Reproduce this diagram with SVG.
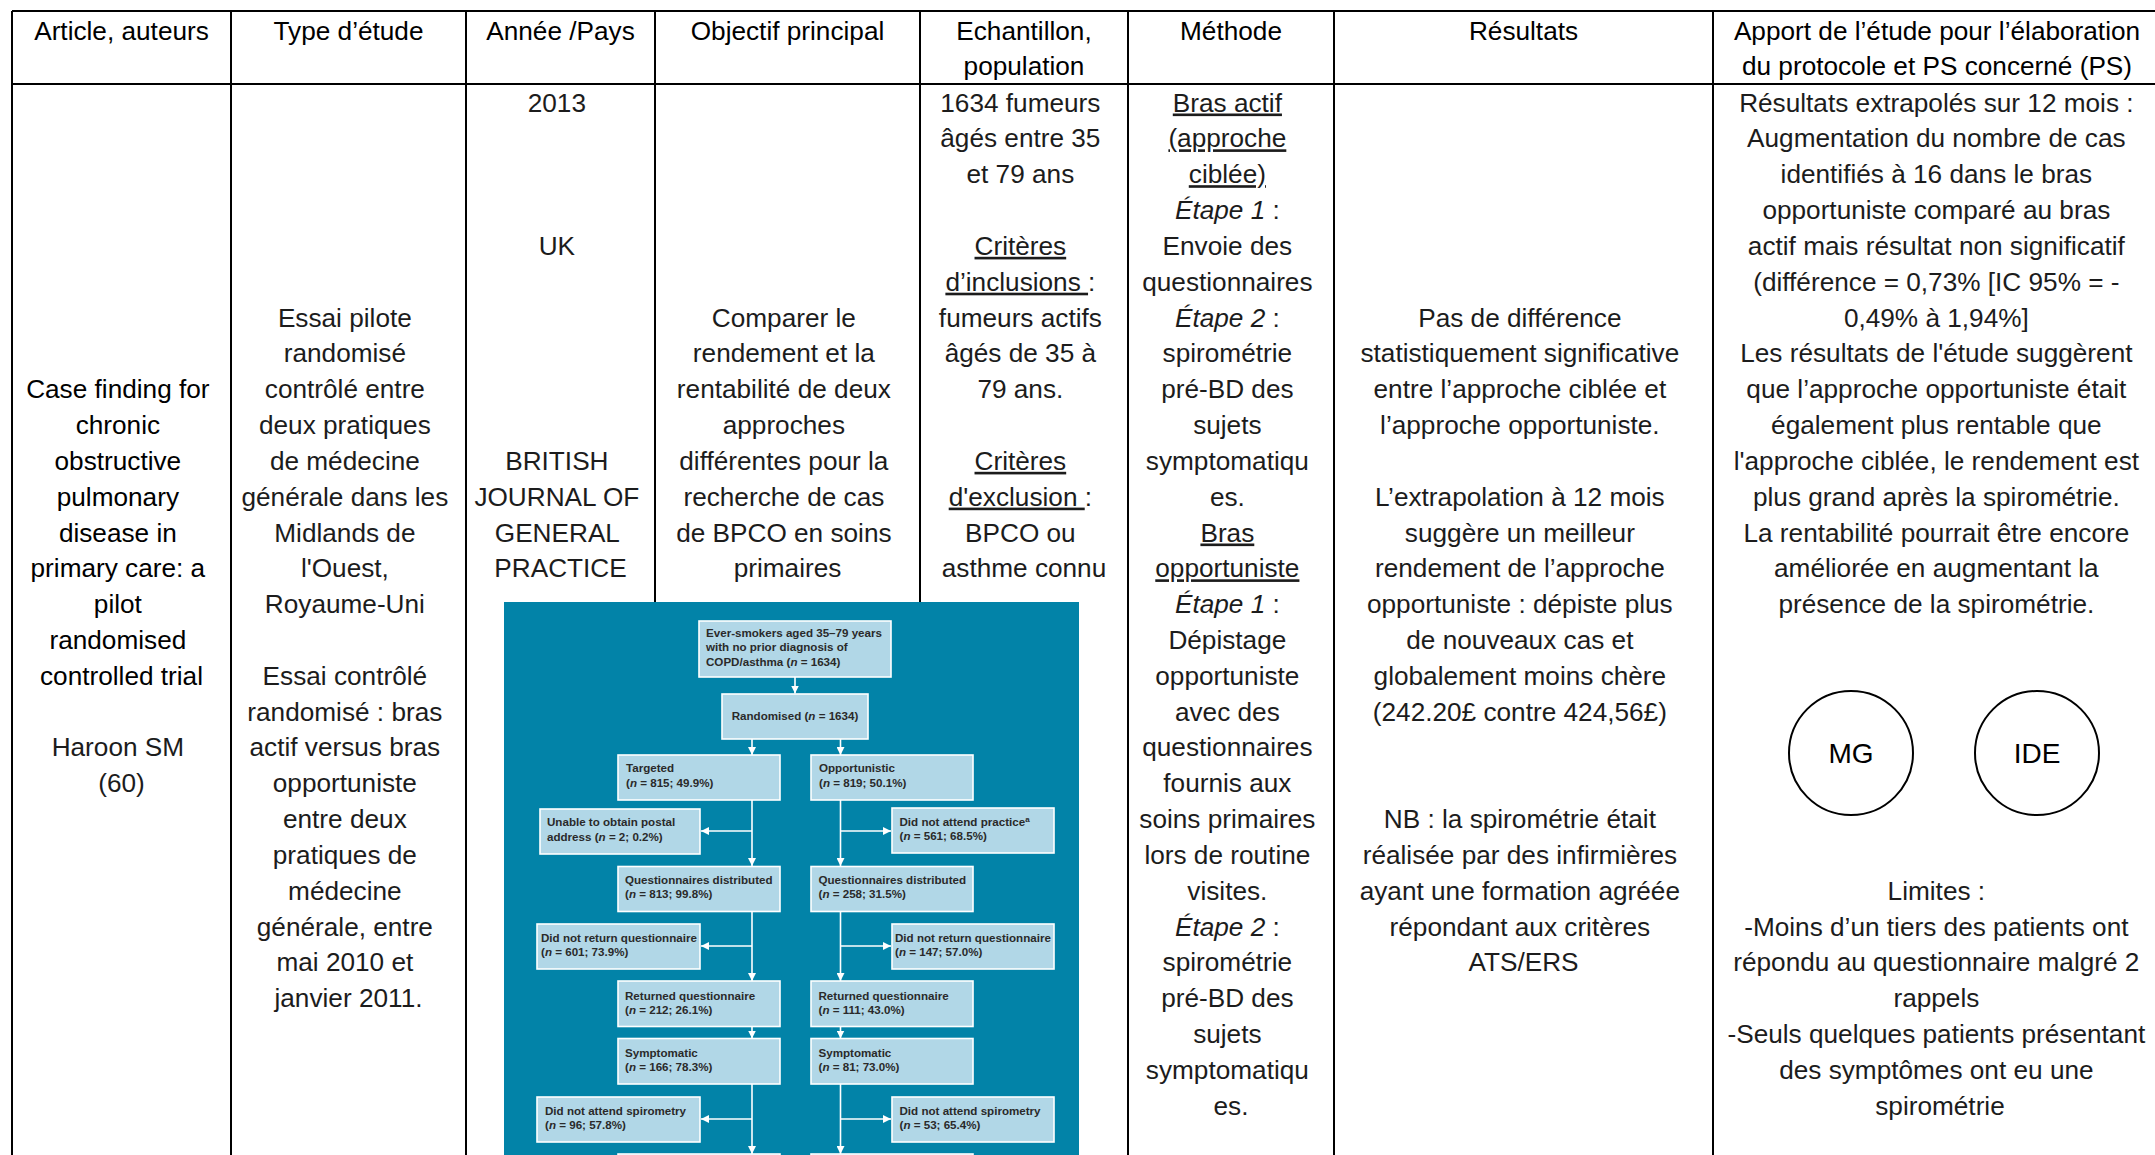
<svg xmlns="http://www.w3.org/2000/svg" width="2155" height="1155" viewBox="0 0 2155 1155">
<style>
.grid{stroke:#000;stroke-width:2;fill:none}
.t{font-family:'Liberation Sans',Arial,sans-serif;font-size:26.2px;fill:#1c1c1c;text-anchor:middle}
.h{font-family:'Liberation Sans',Arial,sans-serif;font-size:26.2px;fill:#000;text-anchor:middle}
.ttl{fill:#000}
.u{text-decoration:underline}
.i{font-style:italic}
.box{fill:#B1D7E7;stroke:#fff;stroke-width:1.6}
.fc{font-family:'Liberation Sans',Arial,sans-serif;font-weight:bold;font-size:11.6px;fill:#2a2a2a}
.conn{stroke:#fff;stroke-width:1.6;fill:none}
.circ{fill:none;stroke:#000;stroke-width:2}
.ct{font-family:'Liberation Sans',Arial,sans-serif;font-size:28px;fill:#000;text-anchor:middle}
</style>
<defs>
<marker id="ah" markerWidth="8" markerHeight="8" refX="8" refY="4" orient="auto" markerUnits="userSpaceOnUse"><path d="M0,0 L8,4 L0,8 z" fill="#fff"/></marker>
</defs>
<rect x="0" y="0" width="2155" height="1155" fill="#fff"/>

<g id="grid">
<line class="grid" x1="12" y1="11" x2="2155" y2="11"/>
<line class="grid" x1="12" y1="84" x2="2155" y2="84"/>
<line class="grid" x1="12" y1="11" x2="12" y2="1155"/>
<line class="grid" x1="231" y1="11" x2="231" y2="1155"/>
<line class="grid" x1="466" y1="11" x2="466" y2="1155"/>
<line class="grid" x1="655" y1="11" x2="655" y2="1155"/>
<line class="grid" x1="920" y1="11" x2="920" y2="1155"/>
<line class="grid" x1="1128" y1="11" x2="1128" y2="1155"/>
<line class="grid" x1="1334" y1="11" x2="1334" y2="1155"/>
<line class="grid" x1="1713" y1="11" x2="1713" y2="1155"/>
</g>

<g id="header">
<text class="h" x="121.5" y="39.5">Article, auteurs</text>
<text class="h" x="348.5" y="39.5">Type d’étude</text>
<text class="h" x="560.5" y="39.5">Année /Pays</text>
<text class="h" x="787.5" y="39.5">Objectif principal</text>
<text class="h"><tspan x="1024" y="39.5">Echantillon,</tspan><tspan x="1024" y="75.3">population</tspan></text>
<text class="h" x="1231" y="39.5">Méthode</text>
<text class="h" x="1523.5" y="39.5">Résultats</text>
<text class="h"><tspan x="1937" y="39.5">Apport de l’étude pour l’élaboration</tspan><tspan x="1937" y="75.3">du protocole et PS concerné (PS)</tspan></text>
</g>

<g id="cell-article">
<text class="t ttl">
<tspan x="121.5" y="398.1">Case finding for</tspan>
<tspan x="121.5" y="434">chronic</tspan>
<tspan x="121.5" y="469.8">obstructive</tspan>
<tspan x="121.5" y="505.6">pulmonary</tspan>
<tspan x="121.5" y="541.5">disease in</tspan>
<tspan x="121.5" y="577.3">primary care: a</tspan>
<tspan x="121.5" y="613.1">pilot</tspan>
<tspan x="121.5" y="649">randomised</tspan>
<tspan x="121.5" y="684.8">controlled trial</tspan>
</text>
<text class="t">
<tspan x="121.5" y="756.4">Haroon SM</tspan>
<tspan x="121.5" y="792.3">(60)</tspan>
</text>
</g>

<g id="cell-type">
<text class="t">
<tspan x="348.5" y="326.5">Essai pilote</tspan>
<tspan x="348.5" y="362.3">randomisé</tspan>
<tspan x="348.5" y="398.1">contrôlé entre</tspan>
<tspan x="348.5" y="434">deux pratiques</tspan>
<tspan x="348.5" y="469.8">de médecine</tspan>
<tspan x="348.5" y="505.6">générale dans les</tspan>
<tspan x="348.5" y="541.5">Midlands de</tspan>
<tspan x="348.5" y="577.3">l'Ouest,</tspan>
<tspan x="348.5" y="613.1">Royaume-Uni</tspan>
<tspan x="348.5" y="684.8">Essai contrôlé</tspan>
<tspan x="348.5" y="720.6">randomisé : bras</tspan>
<tspan x="348.5" y="756.4">actif versus bras</tspan>
<tspan x="348.5" y="792.3">opportuniste</tspan>
<tspan x="348.5" y="828.1">entre deux</tspan>
<tspan x="348.5" y="863.9">pratiques de</tspan>
<tspan x="348.5" y="899.8">médecine</tspan>
<tspan x="348.5" y="935.6">générale, entre</tspan>
<tspan x="348.5" y="971.4">mai 2010 et</tspan>
<tspan x="348.5" y="1007.3">janvier 2011.</tspan>
</text>
</g>

<g id="cell-annee">
<text class="t">
<tspan x="560.5" y="111.5">2013</tspan>
<tspan x="560.5" y="254.8">UK</tspan>
<tspan x="560.5" y="469.8">BRITISH</tspan>
<tspan x="560.5" y="505.6">JOURNAL OF</tspan>
<tspan x="560.5" y="541.5">GENERAL</tspan>
<tspan x="560.5" y="577.3">PRACTICE</tspan>
</text>
</g>

<g id="cell-objectif">
<text class="t">
<tspan x="787.5" y="326.5">Comparer le</tspan>
<tspan x="787.5" y="362.3">rendement et la</tspan>
<tspan x="787.5" y="398.1">rentabilité de deux</tspan>
<tspan x="787.5" y="434">approches</tspan>
<tspan x="787.5" y="469.8">différentes pour la</tspan>
<tspan x="787.5" y="505.6">recherche de cas</tspan>
<tspan x="787.5" y="541.5">de BPCO en soins</tspan>
<tspan x="787.5" y="577.3">primaires</tspan>
</text>
</g>

<g id="cell-echantillon">
<text class="t">
<tspan x="1024" y="111.5">1634 fumeurs</tspan>
<tspan x="1024" y="147.3">âgés entre 35</tspan>
<tspan x="1024" y="183.2">et 79 ans</tspan>
<tspan x="1024" y="254.8" class="u">Critères</tspan>
<tspan x="1024" y="290.7"><tspan class="u">d’inclusions </tspan>:</tspan>
<tspan x="1024" y="326.5">fumeurs actifs</tspan>
<tspan x="1024" y="362.3">âgés de 35 à</tspan>
<tspan x="1024" y="398.1">79 ans.</tspan>
<tspan x="1024" y="469.8" class="u">Critères</tspan>
<tspan x="1024" y="505.6"><tspan class="u">d'exclusion </tspan>:</tspan>
<tspan x="1024" y="541.5">BPCO ou</tspan>
<tspan x="1024" y="577.3">asthme connu</tspan>
</text>
</g>

<g id="cell-methode">
<text class="t">
<tspan x="1231" y="111.5" class="u">Bras actif</tspan>
<tspan x="1231" y="147.3" class="u">(approche</tspan>
<tspan x="1231" y="183.2" class="u">ciblée)</tspan>
<tspan x="1231" y="219"><tspan class="i">Étape 1</tspan> :</tspan>
<tspan x="1231" y="254.8">Envoie des</tspan>
<tspan x="1231" y="290.7">questionnaires</tspan>
<tspan x="1231" y="326.5"><tspan class="i">Étape 2</tspan> :</tspan>
<tspan x="1231" y="362.3">spirométrie</tspan>
<tspan x="1231" y="398.1">pré-BD des</tspan>
<tspan x="1231" y="434">sujets</tspan>
<tspan x="1231" y="469.8">symptomatiqu</tspan>
<tspan x="1231" y="505.6">es.</tspan>
<tspan x="1231" y="541.5" class="u">Bras</tspan>
<tspan x="1231" y="577.3" class="u">opportuniste</tspan>
<tspan x="1231" y="613.1"><tspan class="i">Étape 1</tspan> :</tspan>
<tspan x="1231" y="649">Dépistage</tspan>
<tspan x="1231" y="684.8">opportuniste</tspan>
<tspan x="1231" y="720.6">avec des</tspan>
<tspan x="1231" y="756.4">questionnaires</tspan>
<tspan x="1231" y="792.3">fournis aux</tspan>
<tspan x="1231" y="828.1">soins primaires</tspan>
<tspan x="1231" y="863.9">lors de routine</tspan>
<tspan x="1231" y="899.8">visites.</tspan>
<tspan x="1231" y="935.6"><tspan class="i">Étape 2</tspan> :</tspan>
<tspan x="1231" y="971.4">spirométrie</tspan>
<tspan x="1231" y="1007.3">pré-BD des</tspan>
<tspan x="1231" y="1043.1">sujets</tspan>
<tspan x="1231" y="1078.9">symptomatiqu</tspan>
<tspan x="1231" y="1114.7">es.</tspan>
</text>
</g>

<g id="cell-resultats">
<text class="t">
<tspan x="1523.5" y="326.5">Pas de différence</tspan>
<tspan x="1523.5" y="362.3">statistiquement significative</tspan>
<tspan x="1523.5" y="398.1">entre l’approche ciblée et</tspan>
<tspan x="1523.5" y="434">l’approche opportuniste.</tspan>
<tspan x="1523.5" y="505.6">L’extrapolation à 12 mois</tspan>
<tspan x="1523.5" y="541.5">suggère un meilleur</tspan>
<tspan x="1523.5" y="577.3">rendement de l’approche</tspan>
<tspan x="1523.5" y="613.1">opportuniste : dépiste plus</tspan>
<tspan x="1523.5" y="649">de nouveaux cas et</tspan>
<tspan x="1523.5" y="684.8">globalement moins chère</tspan>
<tspan x="1523.5" y="720.6">(242.20£ contre 424,56£)</tspan>
<tspan x="1523.5" y="828.1">NB : la spirométrie était</tspan>
<tspan x="1523.5" y="863.9">réalisée par des infirmières</tspan>
<tspan x="1523.5" y="899.8">ayant une formation agréée</tspan>
<tspan x="1523.5" y="935.6">répondant aux critères</tspan>
<tspan x="1523.5" y="971.4">ATS/ERS</tspan>
</text>
</g>

<g id="cell-apport">
<text class="t">
<tspan x="1940" y="111.5">Résultats extrapolés sur 12 mois :</tspan>
<tspan x="1940" y="147.3">Augmentation du nombre de cas</tspan>
<tspan x="1940" y="183.2">identifiés à 16 dans le bras</tspan>
<tspan x="1940" y="219">opportuniste comparé au bras</tspan>
<tspan x="1940" y="254.8">actif mais résultat non significatif</tspan>
<tspan x="1940" y="290.7">(différence = 0,73% [IC 95% = -</tspan>
<tspan x="1940" y="326.5">0,49% à 1,94%]</tspan>
<tspan x="1940" y="362.3">Les résultats de l'étude suggèrent</tspan>
<tspan x="1940" y="398.1">que l’approche opportuniste était</tspan>
<tspan x="1940" y="434">également plus rentable que</tspan>
<tspan x="1940" y="469.8">l'approche ciblée, le rendement est</tspan>
<tspan x="1940" y="505.6">plus grand après la spirométrie.</tspan>
<tspan x="1940" y="541.5">La rentabilité pourrait être encore</tspan>
<tspan x="1940" y="577.3">améliorée en augmentant la</tspan>
<tspan x="1940" y="613.1">présence de la spirométrie.</tspan>
<tspan x="1940" y="899.8">Limites :</tspan>
<tspan x="1940" y="935.6">-Moins d’un tiers des patients ont</tspan>
<tspan x="1940" y="971.4">répondu au questionnaire malgré 2</tspan>
<tspan x="1940" y="1007.3">rappels</tspan>
<tspan x="1940" y="1043.1">-Seuls quelques patients présentant</tspan>
<tspan x="1940" y="1078.9">des symptômes ont eu une</tspan>
<tspan x="1940" y="1114.7">spirométrie</tspan>
</text>
</g>

<g id="node-mg">
<circle class="circ" cx="1851" cy="753" r="62"/>
<text class="ct" x="1851" y="763">MG</text>
</g>
<g id="node-ide">
<circle class="circ" cx="2037" cy="753" r="62"/>
<text class="ct" x="2037" y="763">IDE</text>
</g>

<g id="flowchart">
<rect x="504" y="602" width="575" height="553" fill="#0283A8"/>

<g id="fc-connectors">
<path class="conn" d="M795,677 V693.5" marker-end="url(#ah)"/>
<path class="conn" d="M752,739 V755" marker-end="url(#ah)"/>
<path class="conn" d="M840.5,739 V755" marker-end="url(#ah)"/>
<path class="conn" d="M752,800 V866" marker-end="url(#ah)"/>
<path class="conn" d="M752,831 H701" marker-end="url(#ah)"/>
<path class="conn" d="M840.5,800 V866" marker-end="url(#ah)"/>
<path class="conn" d="M840.5,831 H891" marker-end="url(#ah)"/>
<path class="conn" d="M752,911.5 V981" marker-end="url(#ah)"/>
<path class="conn" d="M752,946 H701" marker-end="url(#ah)"/>
<path class="conn" d="M840.5,911.5 V981" marker-end="url(#ah)"/>
<path class="conn" d="M840.5,946 H891" marker-end="url(#ah)"/>
<path class="conn" d="M752,1026.5 V1038.5" marker-end="url(#ah)"/>
<path class="conn" d="M840.5,1026.5 V1038.5" marker-end="url(#ah)"/>
<path class="conn" d="M752,1084 V1154" marker-end="url(#ah)"/>
<path class="conn" d="M752,1119 H701" marker-end="url(#ah)"/>
<path class="conn" d="M840.5,1084 V1154" marker-end="url(#ah)"/>
<path class="conn" d="M840.5,1119 H891" marker-end="url(#ah)"/>
</g>

<g id="fc-ever">
<rect class="box" x="699" y="621" width="192" height="56"/>
<text class="fc"><tspan x="706" y="636.5">Ever-smokers aged 35–79 years</tspan><tspan x="706" y="651">with no prior diagnosis of</tspan><tspan x="706" y="665.5">COPD/asthma (<tspan font-style="italic">n</tspan> = 1634)</tspan></text>
</g>
<g id="fc-randomised">
<rect class="box" x="722" y="694" width="146" height="45"/>
<text class="fc" x="795" y="720" text-anchor="middle">Randomised (<tspan font-style="italic">n</tspan> = 1634)</text>
</g>
<g id="fc-targeted">
<rect class="box" x="618" y="755" width="162" height="45"/>
<text class="fc"><tspan x="626" y="772">Targeted</tspan><tspan x="626" y="786.5">(<tspan font-style="italic">n</tspan> = 815; 49.9%)</tspan></text>
</g>
<g id="fc-opportunistic">
<rect class="box" x="811" y="755" width="162" height="45"/>
<text class="fc"><tspan x="819" y="772">Opportunistic</tspan><tspan x="819" y="786.5">(<tspan font-style="italic">n</tspan> = 819; 50.1%)</tspan></text>
</g>
<g id="fc-unable">
<rect class="box" x="540" y="809" width="160" height="45"/>
<text class="fc"><tspan x="547" y="826">Unable to obtain postal</tspan><tspan x="547" y="840.5">address (<tspan font-style="italic">n</tspan> = 2; 0.2%)</tspan></text>
</g>
<g id="fc-dna-practice">
<rect class="box" x="892" y="808" width="162" height="45"/>
<text class="fc"><tspan x="899.5" y="825.5">Did not attend practice<tspan font-size="8px" dy="-4">a</tspan></tspan><tspan x="899.5" y="840">(<tspan font-style="italic">n</tspan> = 561; 68.5%)</tspan></text>
</g>
<g id="fc-qd-left">
<rect class="box" x="618" y="866.5" width="162" height="45"/>
<text class="fc"><tspan x="625" y="883.5">Questionnaires distributed</tspan><tspan x="625" y="898">(<tspan font-style="italic">n</tspan> = 813; 99.8%)</tspan></text>
</g>
<g id="fc-qd-right">
<rect class="box" x="811" y="866.5" width="162" height="45"/>
<text class="fc"><tspan x="818.5" y="883.5">Questionnaires distributed</tspan><tspan x="818.5" y="898">(<tspan font-style="italic">n</tspan> = 258; 31.5%)</tspan></text>
</g>
<g id="fc-dnr-left">
<rect class="box" x="537" y="924" width="163" height="45"/>
<text class="fc"><tspan x="541" y="941.5">Did not return questionnaire</tspan><tspan x="541" y="956">(<tspan font-style="italic">n</tspan> = 601; 73.9%)</tspan></text>
</g>
<g id="fc-dnr-right">
<rect class="box" x="892" y="924" width="162" height="45"/>
<text class="fc"><tspan x="895" y="941.5">Did not return questionnaire</tspan><tspan x="895" y="956">(<tspan font-style="italic">n</tspan> = 147; 57.0%)</tspan></text>
</g>
<g id="fc-ret-left">
<rect class="box" x="618" y="981" width="162" height="45.5"/>
<text class="fc"><tspan x="625" y="999.5">Returned questionnaire</tspan><tspan x="625" y="1014">(<tspan font-style="italic">n</tspan> = 212; 26.1%)</tspan></text>
</g>
<g id="fc-ret-right">
<rect class="box" x="811" y="981" width="162" height="45.5"/>
<text class="fc"><tspan x="818.5" y="999.5">Returned questionnaire</tspan><tspan x="818.5" y="1014">(<tspan font-style="italic">n</tspan> = 111; 43.0%)</tspan></text>
</g>
<g id="fc-sym-left">
<rect class="box" x="618" y="1038.5" width="162" height="45.5"/>
<text class="fc"><tspan x="625" y="1056.5">Symptomatic</tspan><tspan x="625" y="1071">(<tspan font-style="italic">n</tspan> = 166; 78.3%)</tspan></text>
</g>
<g id="fc-sym-right">
<rect class="box" x="811" y="1038.5" width="162" height="45.5"/>
<text class="fc"><tspan x="818.5" y="1056.5">Symptomatic</tspan><tspan x="818.5" y="1071">(<tspan font-style="italic">n</tspan> = 81; 73.0%)</tspan></text>
</g>
<g id="fc-dnas-left">
<rect class="box" x="537" y="1097" width="163" height="45"/>
<text class="fc"><tspan x="545" y="1114.5">Did not attend spirometry</tspan><tspan x="545" y="1129">(<tspan font-style="italic">n</tspan> = 96; 57.8%)</tspan></text>
</g>
<g id="fc-dnas-right">
<rect class="box" x="892" y="1097" width="162" height="45"/>
<text class="fc"><tspan x="899.5" y="1114.5">Did not attend spirometry</tspan><tspan x="899.5" y="1129">(<tspan font-style="italic">n</tspan> = 53; 65.4%)</tspan></text>
</g>
<g id="fc-next-left">
<rect class="box" x="618" y="1154" width="162" height="20"/>
</g>
<g id="fc-next-right">
<rect class="box" x="811" y="1154" width="162" height="20"/>
</g>
</g>
</svg>
